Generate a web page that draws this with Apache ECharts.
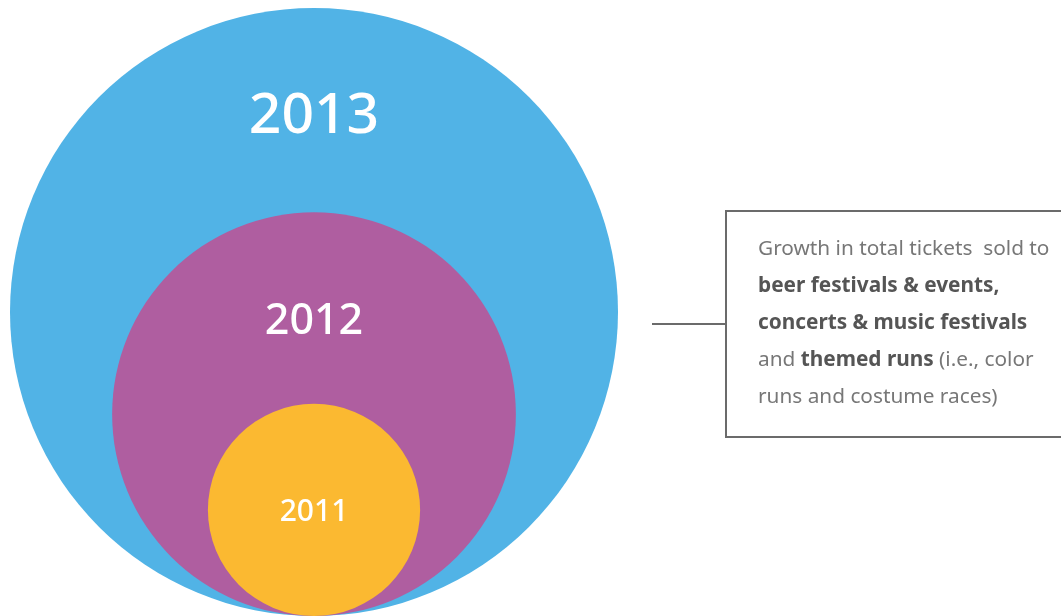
<!DOCTYPE html>
<html>
<head>
<meta charset="utf-8">
<script src="https://cdn.jsdelivr.net/npm/echarts@6/dist/echarts.min.js"></script>
<style>
html,body{margin:0;padding:0;background:#fff;}
#chart{width:1061px;height:616px;}
</style>
</head>
<body>
<div id="chart"></div>
<script>
// Data
const years = ['2013', '2012', '2011'];
const relativeSize = [100, 66.4, 34.9]; // relative circle radius (2013 = 100)

// Styles (kept separate from data)
const colors = ['#51B3E6', '#AF5EA0', '#FBB931'];
const labelFontSizes = [57, 43, 30];
const labelOffsetFromTop = 109;

const chart = echarts.init(document.getElementById('chart'));

const seriesData = years.map((y, i) => ({ value: [0, relativeSize[i]], name: y }));

chart.setOption({
  backgroundColor: '#ffffff',
  animation: false,
  grid: { left: 10, top: 8, width: 608, height: 608 },
  xAxis: { type: 'value', min: -100, max: 100, show: false },
  yAxis: { type: 'value', min: 0, max: 200, show: false },
  series: [{
    type: 'custom',
    coordinateSystem: 'cartesian2d',
    data: seriesData,
    renderItem: function (params, api) {
      const r = api.value(1);
      const c = api.coord([0, r]);
      const rpx = api.size([r, 0])[0];
      const i = params.dataIndex;
      const top = c[1] - rpx;
      return {
        type: 'group',
        children: [
          {
            type: 'circle',
            shape: { cx: c[0], cy: c[1], r: rpx },
            style: { fill: colors[i] }
          },
          {
            type: 'text',
            x: c[0],
            y: top + labelOffsetFromTop,
            style: {
              text: years[i],
              fill: '#ffffff',
              fontSize: labelFontSizes[i],
              fontWeight: 500,
              fontFamily: 'Noto Sans',
              align: 'center',
              verticalAlign: 'middle'
            }
          }
        ]
      };
    }
  }],
  graphic: [
    {
      type: 'line',
      shape: { x1: 652, y1: 324, x2: 725, y2: 324 },
      style: { stroke: '#6b6b6b', lineWidth: 2 }
    },
    {
      type: 'rect',
      shape: { x: 726, y: 211, width: 400, height: 226 },
      style: { fill: 'none', stroke: '#6b6b6b', lineWidth: 2 }
    },
    {
      type: 'text',
      x: 758,
      y: 231,
      style: {
        text: 'Growth in total tickets  sold to\n{b|beer festivals & events,}\n{b|concerts & music festivals}\nand {b|themed runs} (i.e., color\nruns and costume races)',
        fill: '#777777',
        fontSize: 20.8,
        fontFamily: 'Noto Sans',
        lineHeight: 37,
        rich: {
          b: { fontWeight: 'bold', fill: '#555555', fontSize: 20.8, fontFamily: 'Noto Sans', lineHeight: 37 }
        }
      }
    }
  ]
});
</script>
</body>
</html>
